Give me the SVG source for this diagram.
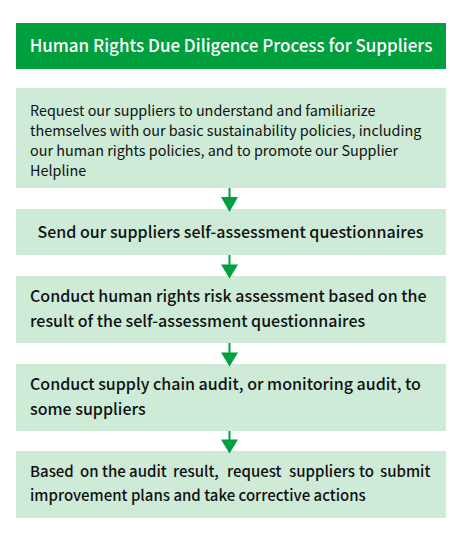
<svg xmlns="http://www.w3.org/2000/svg" width="460" height="541" viewBox="0 0 460 541">
<defs>
<style>
.hdr{fill:#00a03e}
.box{fill:#cdebd7}
.t{font-family:"Noto Sans CJK JP","Noto Sans",sans-serif;fill:#111;font-size:14.4px}
.r{font-weight:400}
.m{font-weight:500;font-size:16px}
.s{font-size:15px}
.title{font-family:"Noto Sans CJK JP","Noto Sans",sans-serif;fill:#fff;font-weight:500;font-size:17px}
.shaft{stroke:#00a03e;stroke-width:2;fill:none}
.head{fill:#00a03e}
</style>
</defs>
<rect width="460" height="541" fill="#fff"/>
<g id="title">
<rect class="hdr" x="16" y="23" width="430" height="46"/>
<text class="title" x="231" y="52" text-anchor="middle">Human Rights Due Diligence Process for Suppliers</text>
</g>
<g id="step1">
<rect class="box" x="16" y="88" width="430" height="100"/>
<text class="t r" x="30" y="116">Request our suppliers to understand and familiarize</text>
<text class="t r" x="30" y="136">themselves with our basic sustainability policies, including</text>
<text class="t r" x="30" y="156">our human rights policies, and to promote our Supplier</text>
<text class="t r" x="30" y="176">Helpline</text>
</g>
<g id="step2">
<rect class="box" x="16" y="209" width="430" height="46"/>
<text class="t m" x="230.5" y="238" text-anchor="middle">Send our suppliers self-assessment questionnaires</text>
</g>
<g id="step3">
<rect class="box" x="16" y="276" width="430" height="67"/>
<text class="t m" x="30" y="302">Conduct human rights risk assessment based on the</text>
<text class="t m" x="30" y="327">result of the self-assessment questionnaires</text>
</g>
<g id="step4">
<rect class="box" x="16" y="364" width="430" height="67"/>
<text class="t m" x="30" y="390">Conduct supply chain audit, or monitoring audit, to</text>
<text class="t m" x="30" y="415">some suppliers</text>
</g>
<g id="step5">
<rect class="box" x="16" y="451" width="430" height="67"/>
<text class="t m s" y="477"><tspan x="30">Based</tspan><tspan x="80">on the audit</tspan><tspan x="173">result,</tspan><tspan x="227">request</tspan><tspan x="289">suppliers</tspan><tspan x="359">to</tspan><tspan x="380">submit</tspan></text>
<text class="t m s" x="30" y="501">improvement plans and take corrective actions</text>
</g>
<g id="connectors">
<line class="shaft" x1="229.5" y1="188" x2="229.5" y2="199"/>
<polygon class="head" points="221,197 238,197 229.5,212"/>
<line class="shaft" x1="229.5" y1="255" x2="229.5" y2="266"/>
<polygon class="head" points="221,264.5 238,264.5 229.5,278.5"/>
<line class="shaft" x1="229.5" y1="343" x2="229.5" y2="354"/>
<polygon class="head" points="221,352.5 238,352.5 229.5,366.5"/>
<line class="shaft" x1="229.5" y1="431" x2="229.5" y2="441"/>
<polygon class="head" points="221,439.5 238,439.5 229.5,453.5"/>
</g>
</svg>
